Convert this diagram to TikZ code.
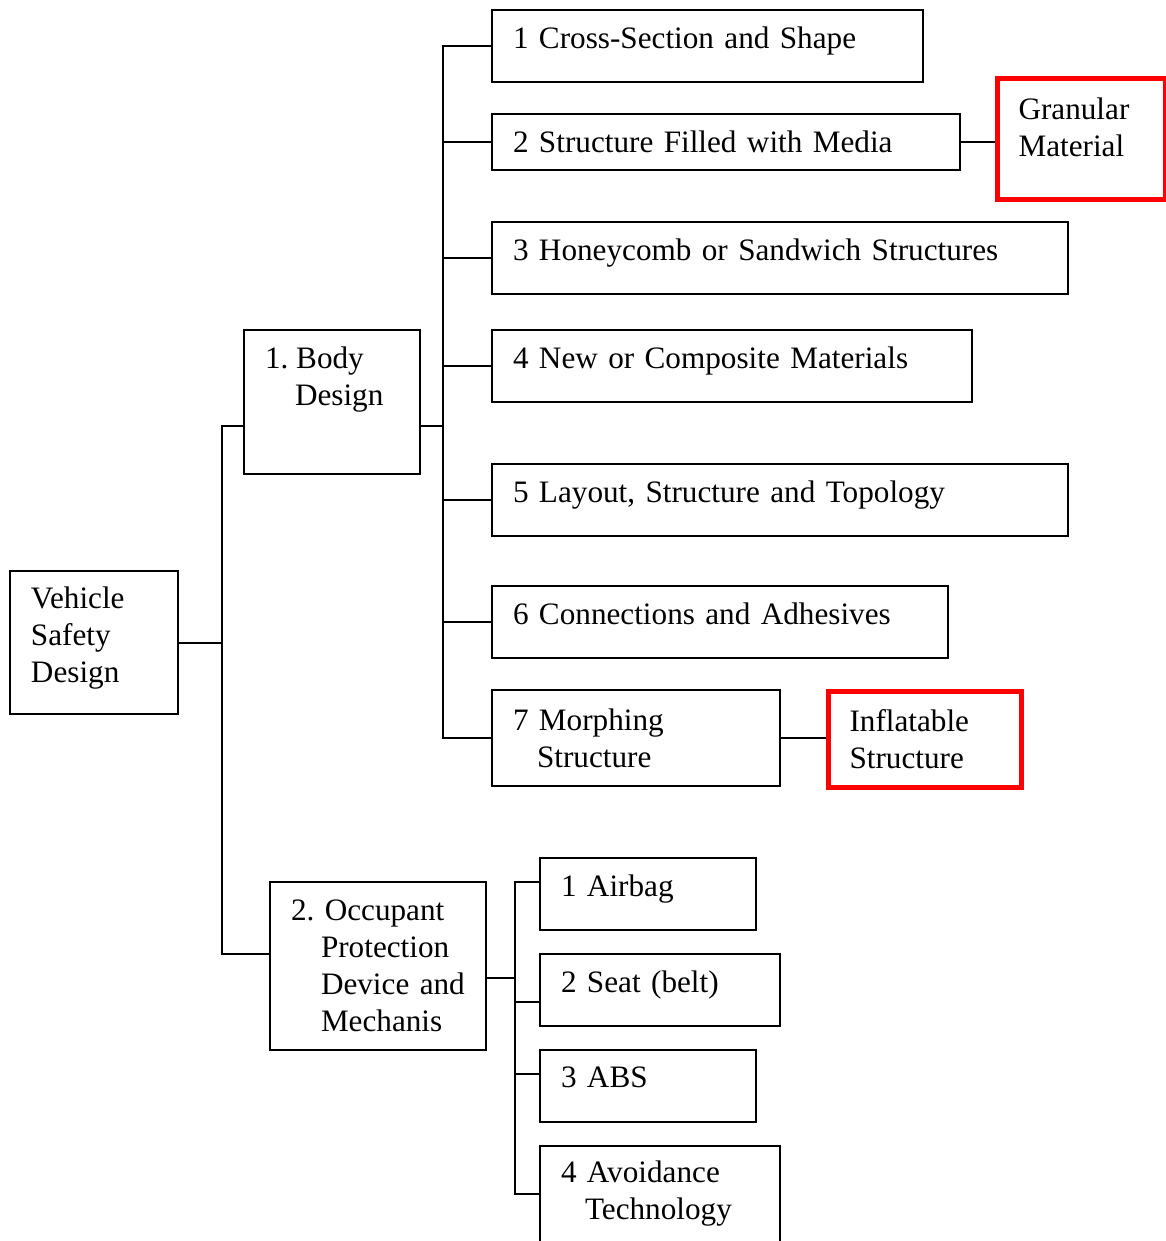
\documentclass[tikz,border=0pt]{standalone}
\usepackage{fontspec}
\setmainfont{Liberation Serif}
\usepackage{tikz}
\usetikzlibrary{calc}

\begin{document}
\begin{tikzpicture}[x=0.5pt,y=-0.5pt,
                    line width=1pt,
                    font=\fontsize{15.6}{18.5}\selectfont,
                    box/.style 2 args={draw,anchor=north west,
                    align=left,
                    text width=#1,
                    minimum height=#2,
                    inner xsep=10.5pt,inner ysep=0pt},
                    redbox/.style 2 args={box={#1}{#2},
                    draw=red,line width=2.5pt},
                    lift/.style={execute at end node={\rule[-#1]{0pt}{0pt}}},
                    txt/.style={align=left,inner sep=0pt}]
    \useasboundingbox (0,0) rectangle (1166,1241);
    \node[box={63pt}{71.5pt},lift=7.5pt](veh) at (9,570) {Vehicle\\Safety\\Design};
    \node[box={67pt}{72pt}](body) at (243,329) {};
    \node[txt,anchor=north west](bodytxt) at (264,346) {1.\ Body\\\hspace*{15pt}Design};
    \node[box={87pt}{84pt}](occ) at (269,881) {2.\ Occupant\\\hspace*{15pt}Protection\\\hspace*{15pt}\mbox{Device and}\\\hspace*{15pt}Mechanis};
    \node[box={194.5pt}{36pt},lift=8.6pt](c1) at (491,9) {1 Cross-Section and Shape};
    \node[box={213pt}{28pt}](c2) at (491,113) {2 Structure Filled with Media};
    \node[redbox={63pt}{60.5pt},lift=12pt](gran) at (995,76) {Granular\\Material};
    \node[box={267pt}{36pt},lift=8.6pt](c3) at (491,221) {3 Honeycomb or Sandwich Structures};
    \node[box={219pt}{36pt},lift=8.6pt](c4) at (491,329) {4 New or Composite Materials};
    \node[box={267pt}{36pt},lift=8.6pt](c5) at (491,463) {5 Layout, Structure and Topology};
    \node[box={207pt}{36pt},lift=8.6pt](c6) at (491,585) {6 Connections and Adhesives};
    \node[box={123pt}{48pt}](c7) at (491,689) {7 Morphing\\\hspace*{12pt}Structure};
    \node[redbox={75.5pt}{48pt}](infl) at (826,689) {Inflatable\\Structure};
    \node[box={87pt}{36pt},lift=8.6pt](p1) at (539,857) {1 Airbag};
    \node[box={99pt}{36pt},lift=8.6pt](p2) at (539,953) {2 Seat (belt)};
    \node[box={87pt}{36pt},lift=8.6pt](p3) at (539,1049) {3 ABS};
    \node[box={99pt}{48pt}](p4) at (539,1145) {4 Avoidance\\\hspace*{12pt}Technology};

    \coordinate (bo) at ([yshift=-12pt]body.east);
    \coordinate (oo) at ([yshift=-6pt]occ.east);
    \coordinate (sp1) at (222,0 |- veh.east);
    \coordinate (sp2) at (443,0 |- bo);
    \coordinate (sp3) at (515,0 |- oo);
    \draw (veh.east) -- (sp1);
    \draw ([yshift=-12pt]body.west) -| (sp1);
    \draw ([yshift=6pt]occ.west) -| (sp1);
    \draw (bo) -- (sp2);
    \foreach \b in {c1,c2,c3,c4,c5,c6,c7}
        \draw (\b.west) -| (sp2);
    \draw (c2.east) -- (gran.west |- c2.east);
    \draw (c7.east) -- (infl.west |- c7.east);
    \draw (oo) -- (sp3);
    \foreach \b/\d in {p1/6,p2/-6,p3/6,p4/0}
        \draw ([yshift=\d pt]\b.west) -| (sp3);
\end{tikzpicture}
\end{document}
